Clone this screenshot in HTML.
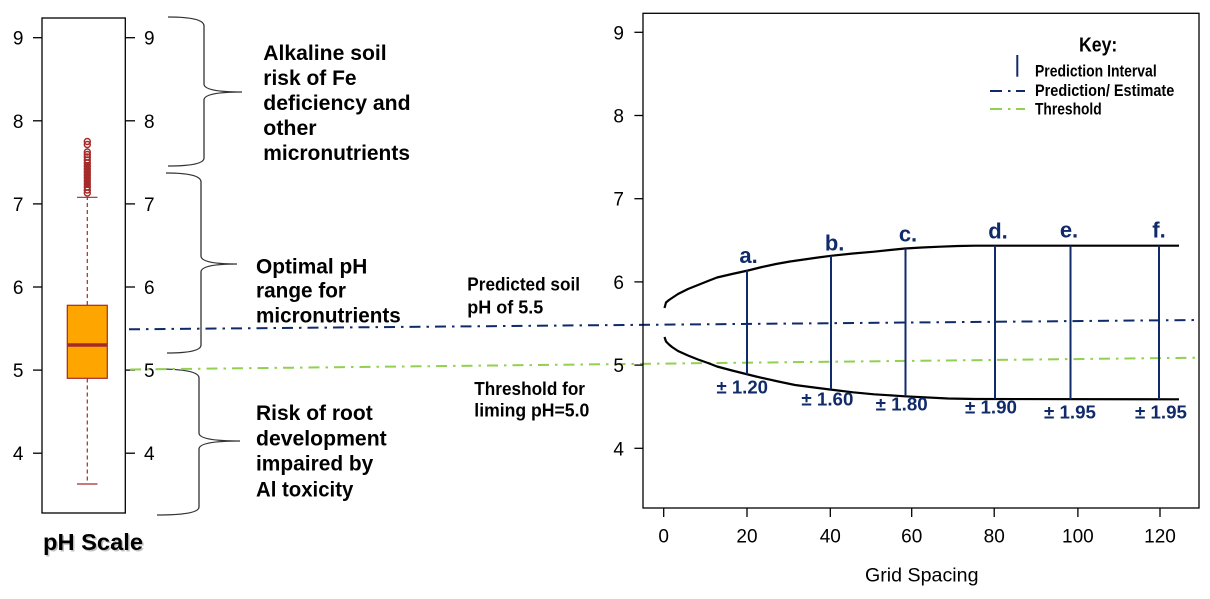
<!DOCTYPE html>
<html><head><meta charset="utf-8"><style>
html,body{margin:0;padding:0;background:#fff;}
svg{display:block;}
text{font-family:"Liberation Sans",Arial,sans-serif;}
</style></head><body>
<svg width="1210" height="599" viewBox="0 0 1210 599" xmlns="http://www.w3.org/2000/svg">
<rect width="1210" height="599" fill="#fff"/>

<!-- ===== Left boxplot ===== -->
<rect x="42" y="18" width="83.3" height="495" fill="none" stroke="#000" stroke-width="1.3"/>
<g stroke="#000" stroke-width="1.3">
  <line x1="33" y1="37.7" x2="42" y2="37.7"/><line x1="33" y1="120.8" x2="42" y2="120.8"/>
  <line x1="33" y1="203.9" x2="42" y2="203.9"/><line x1="33" y1="287" x2="42" y2="287"/>
  <line x1="33" y1="370.1" x2="42" y2="370.1"/><line x1="33" y1="453.2" x2="42" y2="453.2"/>
  <line x1="125.3" y1="37.7" x2="135" y2="37.7"/><line x1="125.3" y1="120.8" x2="135" y2="120.8"/>
  <line x1="125.3" y1="203.9" x2="135" y2="203.9"/><line x1="125.3" y1="287" x2="135" y2="287"/>
  <line x1="125.3" y1="370.1" x2="135" y2="370.1"/><line x1="125.3" y1="453.2" x2="135" y2="453.2"/>
</g>
<g font-size="19" fill="#000" text-anchor="end">
  <text x="23.5" y="44.7">9</text><text x="23.5" y="127.8">8</text><text x="23.5" y="210.9">7</text>
  <text x="23.5" y="294">6</text><text x="23.5" y="377.1">5</text><text x="23.5" y="460.2">4</text>
</g>
<g font-size="19" fill="#000">
  <text x="144" y="44.7">9</text><text x="144" y="127.8">8</text><text x="144" y="210.9">7</text>
  <text x="144" y="294">6</text><text x="144" y="377.1">5</text><text x="144" y="460.2">4</text>
</g>
<!-- whiskers -->
<g stroke="#A52A2A" stroke-width="1.2">
  <line x1="87.3" y1="305" x2="87.3" y2="197.5" stroke-dasharray="4,3"/>
  <line x1="87.3" y1="378.5" x2="87.3" y2="484" stroke-dasharray="4,3"/>
  <line x1="77" y1="197.3" x2="97.5" y2="197.3"/>
  <line x1="77" y1="484" x2="97.5" y2="484"/>
</g>
<rect x="67.3" y="305.3" width="40" height="73" fill="#FFA500" stroke="#A52A2A" stroke-width="1.2"/>
<line x1="67.3" y1="345" x2="107.3" y2="345" stroke="#A52A2A" stroke-width="3.5"/>
<!-- outliers -->
<g fill="none" stroke="#A52A2A" stroke-width="1.4">
  <circle cx="87.3" cy="141.5" r="3"/><circle cx="87.3" cy="144.5" r="3"/>
  <circle cx="87.3" cy="152" r="3"/><circle cx="87.3" cy="154.5" r="3"/>
  <circle cx="87.3" cy="157" r="3"/><circle cx="87.3" cy="160" r="3"/>
  <circle cx="87.3" cy="163" r="3"/><circle cx="87.3" cy="166" r="3"/>
  <circle cx="87.3" cy="169" r="3"/><circle cx="87.3" cy="172" r="3"/>
  <circle cx="87.3" cy="175" r="3"/><circle cx="87.3" cy="178" r="3"/>
  <circle cx="87.3" cy="181" r="3"/><circle cx="87.3" cy="184" r="3"/>
  <circle cx="87.3" cy="187" r="3"/><circle cx="87.3" cy="190" r="3"/>
  <circle cx="87.3" cy="193" r="3"/>
</g>
<rect x="84" y="162" width="6.6" height="26" fill="#A52A2A"/>

<text x="44.5" y="551.5" font-size="23" font-weight="bold" fill="#999" opacity="0.6" textLength="100" lengthAdjust="spacingAndGlyphs">pH Scale</text>
<text x="43" y="550" font-size="23" font-weight="bold" fill="#000" textLength="100" lengthAdjust="spacingAndGlyphs">pH Scale</text>

<!-- ===== Braces ===== -->
<g fill="none" stroke="#333" stroke-width="1.3">
  <path d="M168,17 Q204,17 204,26 L204,84 Q204,92 242,92 Q204,92 204,100 L204,158 Q204,166 168,166"/>
  <path d="M166,173 Q201,173 201,182 L201,256 Q201,264 237,264 Q201,264 201,272 L201,345 Q201,353 167,353"/>
  <path d="M157,369 Q199,369 199,378 L199,433 Q199,441 240,441 Q199,441 199,449 L199,507 Q199,515 157,515"/>
</g>

<!-- ===== Brace texts ===== -->
<g font-size="21" font-weight="bold" fill="#000">
  <text x="263.3" y="60" textLength="123.3" lengthAdjust="spacingAndGlyphs">Alkaline soil</text>
  <text x="263.3" y="85" textLength="93.3" lengthAdjust="spacingAndGlyphs">risk of Fe</text>
  <text x="263.3" y="110" textLength="147.3" lengthAdjust="spacingAndGlyphs">deficiency and</text>
  <text x="263.3" y="135" textLength="53.3" lengthAdjust="spacingAndGlyphs">other</text>
  <text x="263.3" y="160" textLength="146.7" lengthAdjust="spacingAndGlyphs">micronutrients</text>
  <text x="256" y="273.3" textLength="111.3" lengthAdjust="spacingAndGlyphs">Optimal pH</text>
  <text x="256" y="297.5" textLength="90" lengthAdjust="spacingAndGlyphs">range for</text>
  <text x="256" y="322.3" textLength="144.7" lengthAdjust="spacingAndGlyphs">micronutrients</text>
  <text x="256" y="420" textLength="116.7" lengthAdjust="spacingAndGlyphs">Risk of root</text>
  <text x="256" y="445.7" textLength="130.7" lengthAdjust="spacingAndGlyphs">development</text>
  <text x="256" y="470.7" textLength="117.3" lengthAdjust="spacingAndGlyphs">impaired by</text>
  <text x="256" y="496.7" textLength="97.3" lengthAdjust="spacingAndGlyphs">Al toxicity</text>
</g>
<g font-size="18" font-weight="bold" fill="#000">
  <text x="467.3" y="290.7" textLength="112.7" lengthAdjust="spacingAndGlyphs">Predicted soil</text>
  <text x="467.3" y="313.3" textLength="76" lengthAdjust="spacingAndGlyphs">pH of 5.5</text>
  <text x="474.3" y="395" textLength="110.7" lengthAdjust="spacingAndGlyphs">Threshold for</text>
  <text x="474.3" y="416.7" textLength="115" lengthAdjust="spacingAndGlyphs">liming pH=5.0</text>
</g>

<!-- ===== Dash-dot lines ===== -->
<line x1="129" y1="329.3" x2="1199" y2="320" stroke="#0F2A6B" stroke-width="2" stroke-dasharray="11,6,2.5,6"/>
<line x1="130" y1="369.5" x2="1199" y2="357.7" stroke="#92D050" stroke-width="2" stroke-dasharray="11,6,2.5,6"/>

<!-- ===== Right plot ===== -->
<rect x="643" y="13.3" width="556" height="494.7" fill="none" stroke="#000" stroke-width="1.3"/>
<g stroke="#000" stroke-width="1.3">
  <line x1="634.4" y1="32.3" x2="643" y2="32.3"/><line x1="634.4" y1="115.5" x2="643" y2="115.5"/>
  <line x1="634.4" y1="198.7" x2="643" y2="198.7"/><line x1="634.4" y1="281.9" x2="643" y2="281.9"/>
  <line x1="634.4" y1="365.1" x2="643" y2="365.1"/><line x1="634.4" y1="448.3" x2="643" y2="448.3"/>
  <line x1="663.7" y1="508" x2="663.7" y2="517"/><line x1="747" y1="508" x2="747" y2="517"/>
  <line x1="830.3" y1="508" x2="830.3" y2="517"/><line x1="911.7" y1="508" x2="911.7" y2="517"/>
  <line x1="994.2" y1="508" x2="994.2" y2="517"/><line x1="1077.9" y1="508" x2="1077.9" y2="517"/>
  <line x1="1160" y1="508" x2="1160" y2="517"/>
</g>
<g font-size="19" fill="#000" text-anchor="end">
  <text x="624" y="39.3">9</text><text x="624" y="122.5">8</text><text x="624" y="205.7">7</text>
  <text x="624" y="288.9">6</text><text x="624" y="372.1">5</text><text x="624" y="455.3">4</text>
</g>
<g font-size="19" fill="#000" text-anchor="middle">
  <text x="663.7" y="542.7">0</text><text x="747" y="542.7">20</text><text x="830.3" y="542.7">40</text>
  <text x="911.7" y="542.7">60</text><text x="994.2" y="542.7">80</text><text x="1077.9" y="542.7">100</text>
  <text x="1160" y="542.7">120</text>
</g>
<text x="865" y="581.7" font-size="19" fill="#000" textLength="113.5" lengthAdjust="spacingAndGlyphs">Grid Spacing</text>

<!-- prediction interval curves -->
<g fill="none" stroke="#000" stroke-width="2.2" stroke-linejoin="round">
  <polyline points="664.5,308 666,302.5 669,300 672,298 678,294 688,289 698,285 708,281 717,277.5 732,274 748,270.5 762,267 776,264 790,261.5 804,259.5 818,257.5 832,255.7 853,253.5 874,251.7 890,250 905,248.5 922,247.5 940,246.7 958,246 975,245.7 1179,245.7"/>
  <polyline points="664.5,337 666,341.5 669,344.5 672,347 678,351 688,355.5 698,359.5 708,363 717,366.5 732,370.5 748,374.5 756,376.5 776,381 795,385 818,388 834,390 853,392.3 874,394.3 905,396.3 948,398.5 975,399 1179,399.3"/>
</g>
<g stroke="#102A6A" stroke-width="2">
  <line x1="747" y1="270.5" x2="747" y2="374.5"/>
  <line x1="831" y1="255.8" x2="831" y2="389.3"/>
  <line x1="905.5" y1="248.5" x2="905.5" y2="396.3"/>
  <line x1="995" y1="245.7" x2="995" y2="398.7"/>
  <line x1="1070.5" y1="245.7" x2="1070.5" y2="399.3"/>
  <line x1="1159" y1="245.7" x2="1159" y2="399.3"/>
</g>
<g font-size="22" font-weight="bold" fill="#102A6A" text-anchor="middle">
  <text x="748.6" y="263">a.</text>
  <text x="834.6" y="250.7">b.</text>
  <text x="908" y="241.7">c.</text>
  <text x="998" y="238.3">d.</text>
  <text x="1069" y="237.3">e.</text>
  <text x="1159" y="237.3">f.</text>
</g>
<g font-size="18.5" font-weight="bold" fill="#102A6A">
  <text x="716.5" y="393.3" textLength="51.5" lengthAdjust="spacingAndGlyphs">± 1.20</text>
  <text x="801.4" y="405.7" textLength="52" lengthAdjust="spacingAndGlyphs">± 1.60</text>
  <text x="875.7" y="410.7" textLength="52" lengthAdjust="spacingAndGlyphs">± 1.80</text>
  <text x="965" y="413.3" textLength="52" lengthAdjust="spacingAndGlyphs">± 1.90</text>
  <text x="1044" y="418.3" textLength="52" lengthAdjust="spacingAndGlyphs">± 1.95</text>
  <text x="1135" y="418.3" textLength="52" lengthAdjust="spacingAndGlyphs">± 1.95</text>
</g>

<!-- legend -->
<text x="1079" y="51.7" font-size="20" font-weight="bold" fill="#000" textLength="38.3" lengthAdjust="spacingAndGlyphs">Key:</text>
<line x1="1017.3" y1="55" x2="1017.3" y2="76.7" stroke="#102A6A" stroke-width="2"/>
<g stroke-width="2">
  <line x1="990" y1="91" x2="1002" y2="91" stroke="#0F2A6B"/>
  <line x1="1008" y1="91" x2="1010.5" y2="91" stroke="#0F2A6B"/>
  <line x1="1016" y1="91" x2="1025" y2="91" stroke="#0F2A6B"/>
  <line x1="990" y1="109" x2="1002" y2="109" stroke="#92D050"/>
  <line x1="1008" y1="109" x2="1010.5" y2="109" stroke="#92D050"/>
  <line x1="1016" y1="109" x2="1025" y2="109" stroke="#92D050"/>
</g>
<g font-size="16.5" font-weight="bold" fill="#000">
  <text x="1035" y="76.7" textLength="121.7" lengthAdjust="spacingAndGlyphs">Prediction Interval</text>
  <text x="1035" y="96" textLength="139.3" lengthAdjust="spacingAndGlyphs">Prediction/ Estimate</text>
  <text x="1035" y="114.5" textLength="66.7" lengthAdjust="spacingAndGlyphs">Threshold</text>
</g>
</svg>
</body></html>
